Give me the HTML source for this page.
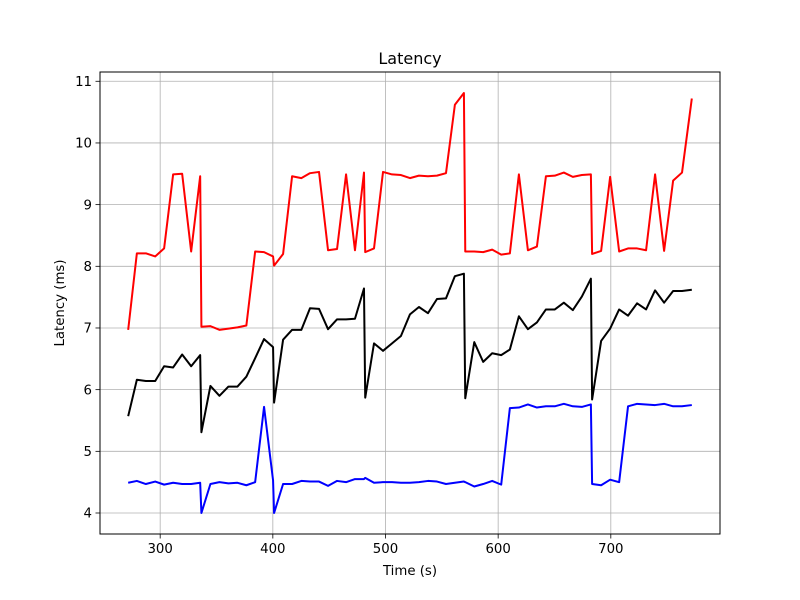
<!DOCTYPE html>
<html><head><meta charset="utf-8"><style>
html,body{margin:0;padding:0;background:#fff;}
svg{display:block;font-family:"DejaVu Sans","Liberation Sans",sans-serif;}
</style></head><body>
<svg id="chart" width="800" height="600" viewBox="0 0 800 600" xmlns="http://www.w3.org/2000/svg">
<rect width="800" height="600" fill="#fff"/>
<g id="grid"></g>
<g id="series"></g>
<rect x="100" y="72" width="620" height="462" fill="none" stroke="#000" stroke-width="1"/>
<g id="ticks"></g>
<text x="410" y="64" font-size="16" text-anchor="middle">Latency</text>
<text x="410" y="575" font-size="13.3" text-anchor="middle">Time (s)</text>
<text transform="translate(64,303) rotate(-90)" font-size="13.3" text-anchor="middle">Latency (ms)</text>
</svg>
<script>
const times=[271.6,279.3,287.3,295.6,303.5,311.5,319.5,327.5,335.5,336.6,344.6,352.6,360.6,368.6,376.5,384.3,392.2,400.2,401.1,409.1,417.1,425.3,433.0,
441.0,449.0,457.0,465.0,472.9,480.9,482.0,489.8,497.8,505.8,513.7,521.7,529.7,537.7,545.7,553.7,561.6,569.6,570.8,578.8,586.7,594.7,602.7,610.4,
618.4,626.4,634.4,642.4,650.3,658.3,666.3,674.3,682.3,683.4,691.4,699.4,707.4,715.3,723.3,731.3,739.3,747.3,755.3,763.2,771.9];
const redValues=[6.97,8.21,8.21,8.16,8.29,9.49,9.50,8.24,9.46,7.02,7.03,6.97,6.99,7.01,7.04,8.24,8.23,8.16,8.01,8.20,9.46,9.43,9.51,
9.53,8.26,8.28,9.49,8.26,9.52,8.23,8.29,9.53,9.49,9.48,9.43,9.47,9.46,9.47,9.51,10.62,10.81,8.24,8.24,8.23,8.27,8.19,8.21,
9.49,8.26,8.32,9.46,9.47,9.52,9.45,9.48,9.49,8.20,8.25,9.45,8.24,8.29,8.29,8.26,9.49,8.25,9.39,9.52,10.72];
const blackValues=[5.57,6.16,6.14,6.14,6.38,6.36,6.57,6.38,6.56,5.31,6.06,5.90,6.05,6.05,6.21,6.51,6.82,6.69,5.79,6.81,6.97,6.97,7.32,
7.31,6.98,7.14,7.14,7.15,7.64,5.87,6.75,6.63,6.75,6.87,7.22,7.34,7.24,7.47,7.48,7.84,7.88,5.86,6.77,6.45,6.59,6.56,6.65,
7.19,6.98,7.09,7.30,7.30,7.41,7.29,7.51,7.80,5.84,6.79,6.99,7.30,7.20,7.40,7.30,7.61,7.41,7.60,7.60,7.62];
const blueValues=[4.49,4.52,4.47,4.51,4.46,4.49,4.47,4.47,4.49,4.00,4.47,4.50,4.48,4.49,4.45,4.50,5.72,4.53,4.00,4.47,4.47,4.52,4.51,
4.51,4.44,4.52,4.50,4.55,4.55,4.57,4.49,4.50,4.50,4.49,4.49,4.50,4.52,4.51,4.47,4.49,4.51,4.50,4.43,4.47,4.52,4.46,5.70,
5.71,5.76,5.71,5.73,5.73,5.77,5.73,5.72,5.76,4.47,4.45,4.54,4.50,5.73,5.77,5.76,5.75,5.77,5.73,5.73,5.75];
const xTicks=[300,400,500,600,700];
const yTicks=[4,5,6,7,8,9,10,11];

const NS="http://www.w3.org/2000/svg";
const L=100,R=720,T=72,B=534;
const allT=times, allV=redValues.concat(blackValues,blueValues);
const tMin=Math.min(...allT),tMax=Math.max(...allT),vMin=Math.min(...allV),vMax=Math.max(...allV);
const x0=tMin-(tMax-tMin)*0.05,x1=tMax+(tMax-tMin)*0.05;
const y0=vMin-(vMax-vMin)*0.05,y1=vMax+(vMax-vMin)*0.05;
function sx(t){return L+(t-x0)/(x1-x0)*(R-L);}
function sy(v){return B-(v-y0)/(y1-y0)*(B-T);}
function mk(tag,attrs,parent){const e=document.createElementNS(NS,tag);for(const k in attrs)e.setAttribute(k,attrs[k]);parent.appendChild(e);return e;}
const grid=document.getElementById('grid'),ticks=document.getElementById('ticks'),series=document.getElementById('series');
xTicks.forEach(t=>{
  const x=sx(t);
  const g=mk('line',{x1:x,x2:x,y1:T,y2:B,stroke:'#b0b0b0','stroke-width':0.8},grid);
  
  
  const tk=mk('line',{x1:x,x2:x,y1:B,y2:B+4.5,stroke:'#000','stroke-width':0.8},ticks);
  
  
  const tx=mk('text',{x:x,y:B+19,'font-size':13.3,'text-anchor':'middle'},ticks);
  tx.textContent=t;
  
  
});
yTicks.forEach(v=>{
  const y=sy(v);
  const g=mk('line',{x1:L,x2:R,y1:y,y2:y,stroke:'#b0b0b0','stroke-width':0.8},grid);
  
  
  const tk=mk('line',{x1:L-4.5,x2:L,y1:y,y2:y,stroke:'#000','stroke-width':0.8},ticks);
  
  
  const tx=mk('text',{x:L-8,y:y+4.7,'font-size':13.3,'text-anchor':'end'},ticks);
  tx.textContent=v;
  
  
});
[[redValues,'#ff0000','red-series-line'],[blackValues,'#000000','black-series-line'],[blueValues,'#0000ff','blue-series-line']].forEach(([vals,col,name])=>{
  const d=vals.map((v,i)=>(i?'L':'M')+sx(times[i]).toFixed(2)+','+sy(v).toFixed(2)).join(' ');
  const p=mk('path',{d:d,fill:'none',stroke:col,'stroke-width':2,'stroke-linejoin':'round'},series);
  
  
});
</script>
</body></html>
